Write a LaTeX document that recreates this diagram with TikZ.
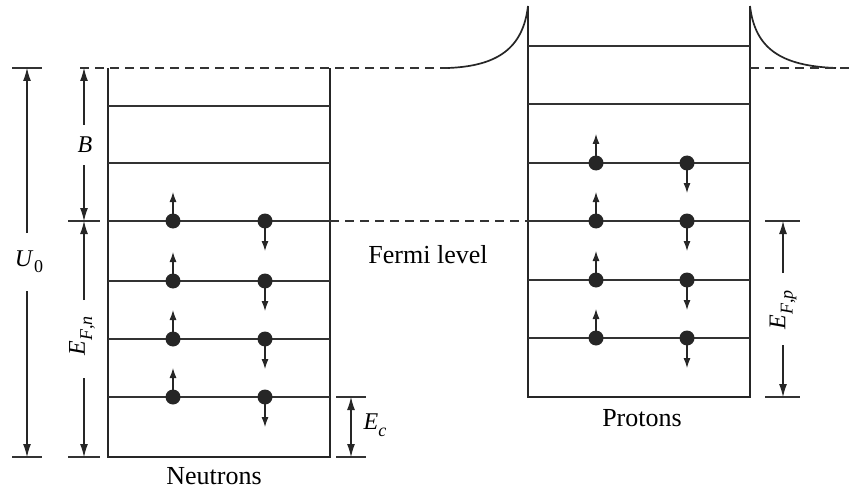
\documentclass[tikz,border=0pt]{standalone}
\usepackage{fontspec}
\setmainfont{Liberation Serif}
\usetikzlibrary{arrows.meta}
\begin{document}
\begin{tikzpicture}[x=1pt,y=-1pt,
  wall/.style={line width=1.4pt,black!85},
  lvl/.style={line width=1.2pt,black!80},
  dashln/.style={line width=1.2pt,black!80,dash pattern=on 9pt off 6pt},
  tick/.style={line width=1.2pt,black!80},
  dimarr/.style={line width=1.1pt,black!85,-{Latex[length=13pt,width=8pt]}},
  spin/.style={line width=1.1pt,black!85,-{Latex[length=10pt,width=7pt]}},
  dot/.style={circle,fill=black!85,inner sep=0pt,minimum size=15pt},
  lbl/.style={font=\fontsize{26}{30}\selectfont,inner sep=0pt},
  mlbl/.style={font=\fontsize{24}{28}\selectfont,inner sep=0pt}]
\useasboundingbox (0,0) rectangle (854,492);
% ---------------- Neutron well ----------------
\draw[wall] (108,68) -- (108,457) -- (330,457) -- (330,68);
\foreach \y in {106,163,221,281,339,397}
  \draw[lvl] (108,\y) -- (330,\y);
% ---------------- Proton well ----------------
\draw[wall] (528,6) -- (528,397) -- (750,397) -- (750,6);
\foreach \y in {46,104,163,221,280,338}
  \draw[lvl] (528,\y) -- (750,\y);
% Coulomb barrier curves
\draw[line width=1.7pt,black!85] (448,68) .. controls (498,66) and (523,48) .. (528,6);
\draw[line width=1.7pt,black!85] (750,6) .. controls (755,48) and (780,66) .. (836,68);
% dashed lines
\draw[dashln] (80,68) -- (448,68);
\draw[dashln] (750,68) -- (854,68);
\draw[dashln] (330,221) -- (528,221);
% ---------------- Neutrons ----------------
\foreach \y [count=\i] in {221,281,339,397} {
  \node[dot] (nu\i) at (173,\y) {};
  \node[dot] (nd\i) at (265,\y) {};
  \coordinate (nut\i) at (173,\y-29);
  \coordinate (ndt\i) at (265,\y+30);
  \draw[spin] (nu\i.center) -- (nut\i);
  \draw[spin] (nd\i.center) -- (ndt\i);
}
% ---------------- Protons ----------------
\foreach \y [count=\i] in {163,221,280,338} {
  \node[dot] (pu\i) at (596,\y) {};
  \node[dot] (pd\i) at (687,\y) {};
  \coordinate (put\i) at (596,\y-29);
  \coordinate (pdt\i) at (687,\y+30);
  \draw[spin] (pu\i.center) -- (put\i);
  \draw[spin] (pd\i.center) -- (pdt\i);
}
% ---------------- U0 ----------------
\draw[tick] (12,68) -- (42,68);
\draw[tick] (12,457) -- (42,457);
\node[mlbl] (u0) at (29,262) {\textit{U}\kern0.5pt\raisebox{-0.25em}{\fontsize{18}{20}\selectfont 0}};
\coordinate (u0a) at (27,233); \coordinate (u0b) at (27,68);
\coordinate (u0c) at (27,291); \coordinate (u0d) at (27,457);
\draw[dimarr] (u0a) -- (u0b);
\draw[dimarr] (u0c) -- (u0d);
% ---------------- B ----------------
\draw[tick] (68,221) -- (100,221);
\draw[tick] (68,457) -- (100,457);
\node[mlbl] (b) at (85,145) {\textit{B}};
\coordinate (ba) at (84,125); \coordinate (bb) at (84,68);
\coordinate (bc) at (84,165); \coordinate (bd) at (84,221);
\draw[dimarr] (ba) -- (bb);
\draw[dimarr] (bc) -- (bd);
% ---------------- E_F,n ----------------
\node[mlbl,rotate=90] (efn) at (82,336) {\textit{E}\raisebox{-0.3em}{\fontsize{18}{20}\selectfont\textit{F},\textit{n}}};
\coordinate (ea) at (84,300); \coordinate (eb) at (84,221);
\coordinate (ec) at (84,378); \coordinate (ed) at (84,457);
\draw[dimarr] (ea) -- (eb);
\draw[dimarr] (ec) -- (ed);
% ---------------- E_c ----------------
\draw[tick] (336,397) -- (366,397);
\draw[tick] (336,457) -- (366,457);
\coordinate (eca) at (351,397); \coordinate (ecb) at (351,457);
\draw[line width=1.1pt,black!85,{Latex[length=13pt,width=8pt]}-{Latex[length=13pt,width=8pt]}] (eca) -- (ecb);
\node[mlbl] (ecl) at (375,425) {\textit{E}\raisebox{-0.3em}{\fontsize{18}{20}\selectfont\textit{c}}};
% ---------------- E_F,p ----------------
\draw[tick] (765,221) -- (800,221);
\draw[tick] (765,397) -- (800,397);
\node[mlbl,rotate=90] (efp) at (783,310) {\textit{E}\raisebox{-0.3em}{\fontsize{18}{20}\selectfont\textit{F},\textit{p}}};
\coordinate (pa) at (783,273); \coordinate (pb) at (783,221);
\coordinate (pc) at (783,345); \coordinate (pd) at (783,397);
\draw[dimarr] (pa) -- (pb);
\draw[dimarr] (pc) -- (pd);
% ---------------- text ----------------
\node[lbl] (fermi) at (428,255) {Fermi level};
\node[lbl] (neut) at (214,476) {Neutrons};
\node[lbl] (prot) at (642,418) {Protons};
\end{tikzpicture}
\end{document}
